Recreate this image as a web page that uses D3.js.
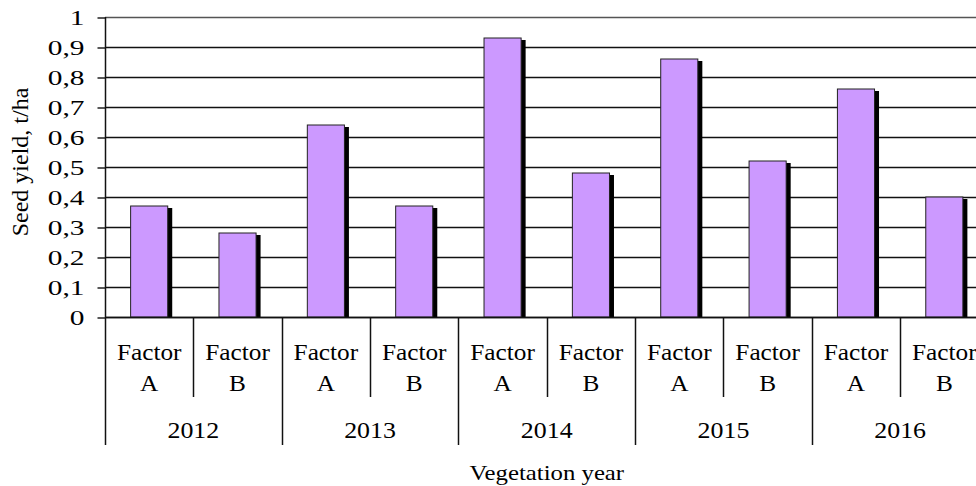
<!DOCTYPE html>
<html>
<head>
<meta charset="utf-8">
<script src="https://cdn.jsdelivr.net/npm/d3@7"></script>
<style>
  html, body { margin: 0; padding: 0; background: #fff; }
  svg { display: block; }
  text { font-family: "Liberation Serif", "Times New Roman", serif; fill: #000; }
</style>
</head>
<body>
<svg id="chart" width="976" height="486"></svg>
<script>
// Chart data
const years = ["2012", "2013", "2014", "2015", "2016"];
const factors = ["A", "B"];
const valuesA = [0.37, 0.64, 0.93, 0.86, 0.76];
const valuesB = [0.28, 0.37, 0.48, 0.52, 0.40];
const yTicks = [0, 0.1, 0.2, 0.3, 0.4, 0.5, 0.6, 0.7, 0.8, 0.9, 1];

const rows = [];
years.forEach((yr, i) => {
  factors.forEach(f => {
    rows.push({ key: yr + f, year: yr, factor: f, value: f === "A" ? valuesA[i] : valuesB[i] });
  });
});

const svg = d3.select("#chart");
const plotLeft = 105, plotRight = 988.5, plotTop = 17, plotBottom = 317;

const x = d3.scaleBand()
  .domain(rows.map(d => d.key))
  .range([plotLeft, plotRight]);

const y = d3.scaleLinear()
  .domain([0, 1])
  .range([plotBottom, plotTop]);

const fmt = d => (d === 0 || d === 1) ? String(d) : d.toFixed(1).replace(".", ",");

// gridlines
svg.append("g")
  .selectAll("line")
  .data(yTicks)
  .enter()
  .append("line")
  .attr("x1", plotLeft)
  .attr("x2", plotRight)
  .attr("y1", d => Math.round(y(d)) + 0.5)
  .attr("y2", d => Math.round(y(d)) + 0.5)
  .attr("stroke", d => d === 1 ? "#555" : "#111")
  .attr("stroke-width", 1.4);

// y axis with tick marks and labels
const yAxis = svg.append("g")
  .attr("transform", `translate(${plotLeft + 0.5},0)`)
  .call(d3.axisLeft(y).tickValues(yTicks).tickFormat(fmt).tickSize(8).tickSizeOuter(0));
yAxis.select(".domain").remove();
yAxis.selectAll(".tick line").attr("stroke", "#111").attr("stroke-width", 1.4)
  .attr("transform", "translate(0,0.5)");
yAxis.selectAll(".tick text")
  .attr("font-size", 21)
  .attr("fill", "#000")
  .attr("dy", "0.36em")
  .attr("x", null)
  .attr("transform", "translate(-21,0) scale(1.4,1)");

// bars with drop shadow
const barW = x.bandwidth() * 0.42;
const bars = svg.append("g")
  .selectAll("g")
  .data(rows)
  .enter()
  .append("g");

bars.append("rect")
  .attr("x", d => x(d.key) + (x.bandwidth() - barW) / 2 + 4.5)
  .attr("y", d => y(d.value) + 2)
  .attr("width", barW)
  .attr("height", d => plotBottom - y(d.value) - 2)
  .attr("fill", "#000");

bars.append("rect")
  .attr("x", d => x(d.key) + (x.bandwidth() - barW) / 2)
  .attr("y", d => y(d.value))
  .attr("width", barW)
  .attr("height", d => plotBottom - y(d.value))
  .attr("fill", "#cc99ff")
  .attr("stroke", "#222")
  .attr("stroke-width", 1);

// baseline and left axis line
svg.append("line")
  .attr("x1", plotLeft).attr("x2", plotRight)
  .attr("y1", plotBottom + 0.5).attr("y2", plotBottom + 0.5)
  .attr("stroke", "#111").attr("stroke-width", 1.4);
svg.append("line")
  .attr("x1", plotLeft + 0.5).attr("x2", plotLeft + 0.5)
  .attr("y1", plotTop).attr("y2", 445)
  .attr("stroke", "#111").attr("stroke-width", 1.5);

// x axis: inner ticks between factors, outer ticks between years
const xg = svg.append("g");
rows.forEach((d, i) => {
  if (i === 0) return;
  const xx = Math.round(x(d.key)) + 0.5;
  xg.append("line")
    .attr("x1", xx).attr("x2", xx)
    .attr("y1", plotBottom)
    .attr("y2", d.factor === "A" ? 445 : 397)
    .attr("stroke", "#111").attr("stroke-width", 1.5);
});

const labelScale = 1.1;
const cats = xg.selectAll(".cat")
  .data(rows)
  .enter()
  .append("g")
  .attr("class", "cat")
  .attr("transform", d => `translate(${x(d.key) + x.bandwidth() / 2},0)`);

cats.append("text")
  .attr("text-anchor", "middle")
  .attr("font-size", 23)
  .attr("transform", `translate(0,360) scale(${labelScale},1)`)
  .text("Factor");

cats.append("text")
  .attr("text-anchor", "middle")
  .attr("font-size", 23)
  .attr("transform", `translate(0,391) scale(${labelScale},1)`)
  .text(d => d.factor);

xg.selectAll(".year")
  .data(years)
  .enter()
  .append("text")
  .attr("class", "year")
  .attr("text-anchor", "middle")
  .attr("font-size", 24)
  .attr("transform", d => `translate(${x(d + "A") + x.bandwidth()},438) scale(1.08,1)`)
  .text(d => d);

// axis titles
svg.append("text")
  .attr("text-anchor", "middle")
  .attr("font-size", 21)
  .attr("transform", `translate(${(plotLeft + plotRight) / 2},480) scale(1.18,1)`)
  .text("Vegetation year");

svg.append("text")
  .attr("text-anchor", "middle")
  .attr("font-size", 24)
  .attr("transform", "translate(28,162) rotate(-90)")
  .text("Seed yield, t/ha");
</script>
</body>
</html>
